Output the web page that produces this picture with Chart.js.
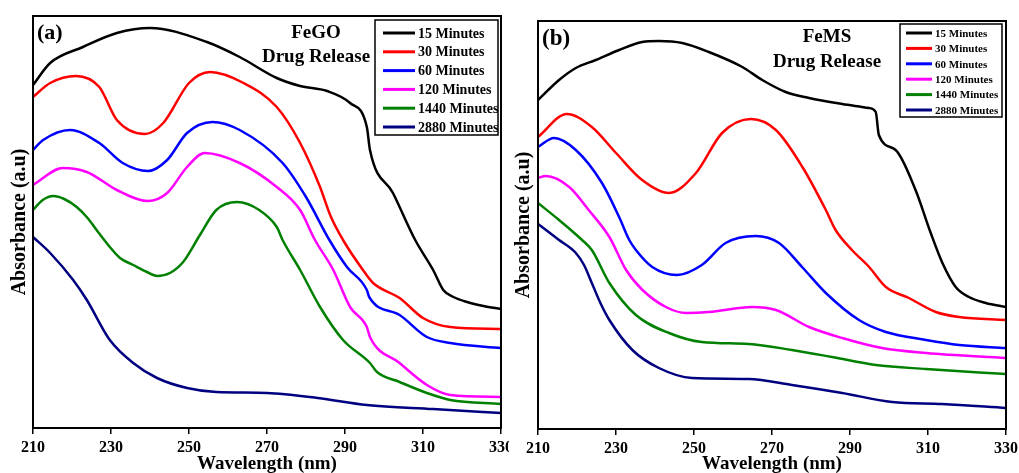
<!DOCTYPE html>
<html>
<head>
<meta charset="utf-8">
<script src="https://cdn.jsdelivr.net/npm/chart.js@4"></script>
<style>
  html, body { margin: 0; padding: 0; background: #fff; }
  #wrap { position: relative; width: 1019px; height: 473px; }
  #wrap canvas { position: absolute; top: 0; }
</style>
</head>
<body>
<div id="wrap">
  <canvas id="fegoChart" width="509" height="473" style="left:0"></canvas>
  <canvas id="femsChart" width="510" height="473" style="left:509px"></canvas>
</div>
<script>
// Shared labels / colours
const seriesLabels = ['15 Minutes', '30 Minutes', '60 Minutes', '120 Minutes', '1440 Minutes', '2880 Minutes'];
const seriesColors = ['#000000', '#ff0000', '#0000ff', '#ff00ff', '#008000', '#000080'];
const wavelengthTicks = [210, 230, 250, 270, 290, 310, 330];

// FeGO spectra, [wavelength nm, absorbance a.u.]
const fegoT15 = [[210,343],[214.4,365],[222.8,381],[231.5,395],[240,400],[254.6,386],[263,371],[272.5,350],[278.5,342],[285.4,337],[291.3,325],[295.6,301],[296.4,278],[302.3,235],[308,188],[312.6,158],[315.2,138],[317.8,131],[321.3,126],[325.5,122],[330,119]];
const fegoT30 = [[210,331],[214.4,345],[221,352],[227,341],[231.5,308],[238.7,294],[243.4,305],[250,345],[255.4,356],[264,345],[272.5,321],[278.5,285],[283.6,241],[286.3,212],[289.5,188],[294.6,158],[297.2,145],[304,130],[310,110],[317,101],[330,99]];
const fegoT60 = [[210,278],[212.6,288],[219.5,298],[227,285],[233,265],[239.5,257],[244.4,268],[249.5,295],[256,306],[263,298],[274,265],[280,231],[286,188],[290.5,161],[295.6,138],[296.2,131],[304,113],[311,91],[317,85],[330,80]];
const fegoT120 = [[210,243],[217.7,260],[223.8,256],[231.5,238],[239.5,227],[244.4,235],[249.5,261],[254,275],[263,265],[272.5,241],[278.5,218],[282.3,188],[287,158],[291.3,121],[295.6,101],[296.4,91],[304,65],[311,43],[317,33],[330,31]];
const fegoT1440 = [[210,218],[212.5,228],[215.2,232],[218,229],[221.2,221],[224,210],[226.3,198],[229.7,181],[232.3,170],[235.7,163],[239.2,156],[241.8,152],[245.1,155],[248.5,166],[252.8,193],[257,218],[262.3,226],[268,218],[272.5,201],[274,188],[278.5,158],[283.6,121],[289.5,88],[296.4,65],[298.2,56],[304,46],[311,35],[317,28],[330,24]];
const fegoT2880 = [[210,191],[214.4,175],[220.3,148],[223.8,128],[229.7,88],[235.7,65],[241.8,50],[249.5,40],[257,36],[270,35],[283,30],[295.6,23],[312.6,19],[330,15]];

// FeMS spectra
const femsT15 = [[210,329],[215.4,349],[219.7,361],[224.8,369],[230.8,379],[236.7,387],[241,388],[247,386],[253.8,377],[262.4,362],[267.5,349],[273.5,337],[279.5,331],[288,325],[294.9,321],[296.6,317],[297.4,294],[301.7,279],[306.8,239],[310.7,196],[313.7,166],[317.1,142],[320.5,132],[324.8,126],[330,122]];
const femsT30 = [[210,292],[217.4,315],[223.8,302],[230,276],[236.7,249],[243.6,236],[250.5,256],[257.2,296],[264.6,310],[271,299],[277.8,262],[283.8,219],[286.3,199],[290.5,179],[294.9,162],[299.2,142],[305.1,131],[312,117],[318,112],[330,109]];
const femsT60 = [[210,282],[214.1,291],[219.7,279],[226.4,246],[230.8,212],[233.4,189],[235.1,179],[239.3,162],[245.6,154],[252,164],[258.1,186],[265.8,193],[271.8,186],[277.7,162],[283.8,136],[292.3,109],[299.2,97],[309.5,89],[318,84],[330,81]];
const femsT120 = [[210,251],[212,253],[218,242],[223,219],[228.3,192],[232.6,159],[236.8,139],[242.8,122],[248,116],[253.8,117],[264.9,122],[271,119],[279.5,102],[288,91],[298.2,81],[309.5,76],[330,71]];
const femsT1440 = [[210,226],[215.4,209],[221.3,189],[223.8,179],[228.3,146],[235.1,114],[243.6,96],[252,87],[264,85],[275.1,79],[285.4,72],[296.6,64],[309.5,60],[330,55]];
const femsT2880 = [[210,205],[215.4,189],[219.7,176],[221.8,164],[223.8,146],[226,126],[228.3,109],[234.2,79],[241,61],[249.5,51],[264,50],[275.1,44],[288,36],[300.8,27],[313.6,25],[330,21]];

const SERIF = "'Liberation Serif', 'Times New Roman', serif";

// Box around the plot, panel captions and the boxed legend
const panelDecor = {
  id: 'panelDecor',
  afterDraw(chart, args, opts) {
    const { ctx, chartArea: a } = chart;
    ctx.save();
    ctx.strokeStyle = '#000';
    ctx.lineWidth = 2;
    ctx.strokeRect(a.left, a.top, a.right - a.left, a.bottom - a.top);

    ctx.fillStyle = '#000';
    ctx.textBaseline = 'alphabetic';
    ctx.textAlign = 'left';
    ctx.font = 'bold ' + opts.tagSize + 'px ' + SERIF;
    ctx.fillText(opts.tag, opts.tagX, opts.tagY);

    ctx.textAlign = 'center';
    ctx.font = 'bold ' + opts.titleSize + 'px ' + SERIF;
    opts.title.forEach((line, i) => ctx.fillText(line, opts.titleX, opts.titleY[i]));

    // legend
    const lg = opts.legend;
    ctx.lineWidth = 1.5;
    ctx.strokeRect(lg.x1, lg.y1, lg.x2 - lg.x1, lg.y2 - lg.y1);
    ctx.font = 'bold ' + lg.size + 'px ' + SERIF;
    ctx.textAlign = 'left';
    ctx.textBaseline = 'middle';
    chart.data.datasets.forEach((ds, i) => {
      const y = lg.rowY + i * lg.rowGap;
      ctx.strokeStyle = ds.borderColor;
      ctx.lineWidth = 3;
      ctx.beginPath();
      ctx.moveTo(lg.lineX1, y);
      ctx.lineTo(lg.lineX2, y);
      ctx.stroke();
      ctx.fillStyle = '#000';
      ctx.fillText(ds.label, lg.textX, y + 1);
    });
    ctx.restore();
  }
};

function buildDatasets(seriesList) {
  return seriesList.map((pts, i) => ({
    label: seriesLabels[i],
    data: pts.map(p => ({ x: p[0], y: p[1] })),
    borderColor: seriesColors[i],
    backgroundColor: seriesColors[i],
    borderWidth: 2.5,
    pointRadius: 0,
    cubicInterpolationMode: 'monotone',
    fill: false
  }));
}

function makePanel(canvasId, seriesList, p) {
  return new Chart(document.getElementById(canvasId), {
    type: 'line',
    data: { datasets: buildDatasets(seriesList) },
    plugins: [panelDecor],
    options: {
      responsive: false,
      animation: false,
      layout: { padding: { left: 0, right: p.padRight, top: p.padTop, bottom: 0 } },
      plugins: {
        legend: { display: false },
        tooltip: { enabled: false },
        panelDecor: p.decor
      },
      scales: {
        x: {
          type: 'linear',
          min: 210,
          max: 330,
          afterBuildTicks: (scale) => { scale.ticks = wavelengthTicks.map(v => ({ value: v })); },
          afterFit: (scale) => {
            scale.height = p.xHeight;
            // end labels may hang past the frame
            scale.paddingLeft = 0;
            scale.paddingRight = 0;
          },
          border: { display: false },
          grid: { drawOnChartArea: false, drawTicks: true, tickLength: 6, color: '#000', lineWidth: 1.5 },
          ticks: { color: '#000', padding: 4, maxRotation: 0, font: { family: SERIF, size: 16, weight: 'bold' } },
          title: {
            display: true,
            text: 'Wavelength (nm)',
            color: '#000',
            font: { family: SERIF, size: 19, weight: 'bold' },
            padding: { top: 0, bottom: -2 }
          }
        },
        y: {
          min: 0,
          max: p.yMax,
          afterFit: (scale) => { scale.width = p.yWidth; },
          border: { display: false },
          grid: { display: false },
          ticks: { display: false },
          title: {
            display: true,
            text: 'Absorbance (a.u)',
            color: '#000',
            font: { family: SERIF, size: 20, weight: 'bold' },
            padding: { top: p.yTitlePad, bottom: 0 }
          }
        }
      }
    }
  });
}

// (a) FeGO
makePanel('fegoChart', [fegoT15, fegoT30, fegoT60, fegoT120, fegoT1440, fegoT2880], {
  padRight: 8, padTop: 16, xHeight: 45, yWidth: 33, yMax: 412, yTitlePad: 8,
  decor: {
    tag: '(a)', tagSize: 22, tagX: 37, tagY: 39,
    title: ['FeGO', 'Drug Release'], titleSize: 19, titleX: 316, titleY: [38, 62],
    legend: { x1: 375, y1: 20, x2: 498, y2: 135, rowY: 33, rowGap: 18.8, lineX1: 383, lineX2: 415, textX: 418, size: 14 }
  }
});

// (b) FeMS
makePanel('femsChart', [femsT15, femsT30, femsT60, femsT120, femsT1440, femsT2880], {
  padRight: 13, padTop: 21, xHeight: 44, yWidth: 29, yMax: 408, yTitlePad: 2.5,
  decor: {
    tag: '(b)', tagSize: 23, tagX: 33, tagY: 45,
    title: ['FeMS', 'Drug Release'], titleSize: 19, titleX: 318, titleY: [42, 67],
    legend: { x1: 391, y1: 24, x2: 493, y2: 117, rowY: 33, rowGap: 15.4, lineX1: 397, lineX2: 423, textX: 426, size: 11 }
  }
});
</script>
</body>
</html>
